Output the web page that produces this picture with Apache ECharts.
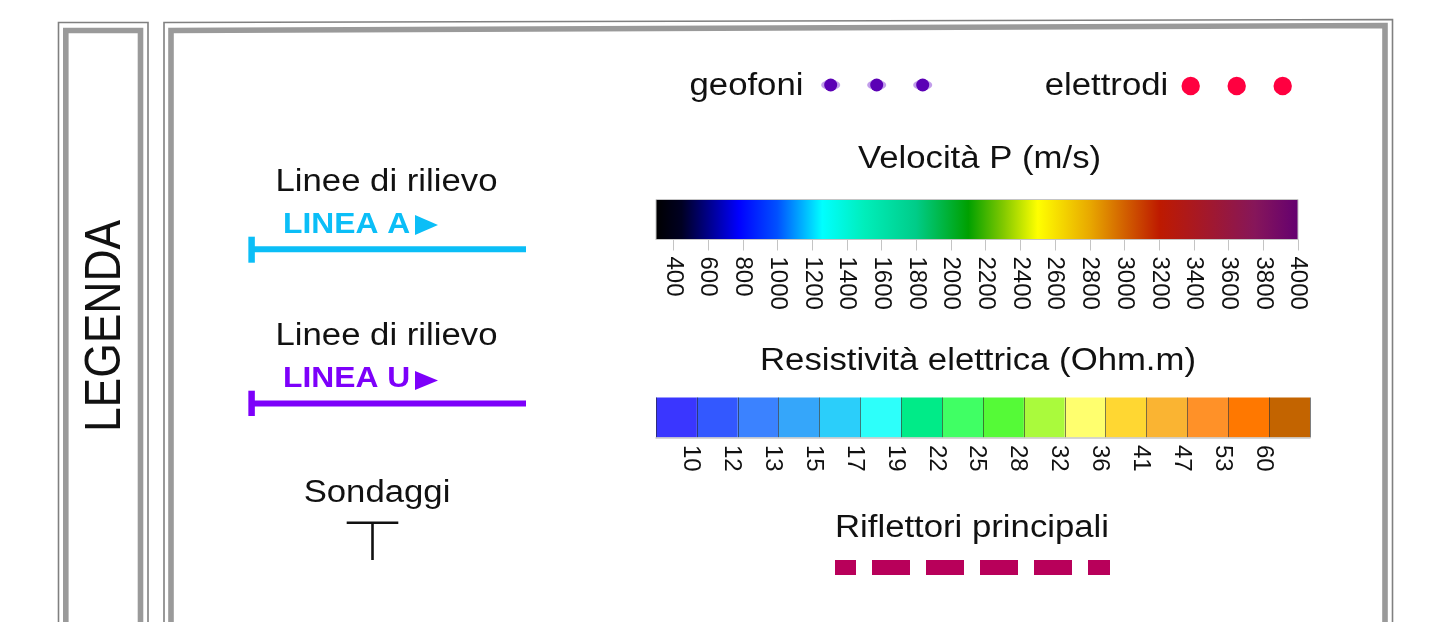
<!DOCTYPE html>
<html><head><meta charset="utf-8">
<script src="https://cdn.jsdelivr.net/npm/echarts@6/dist/echarts.min.js"></script>
<style>html,body{margin:0;padding:0;background:#fff}#c{width:1440px;height:622px}</style>
</head><body><div id="c"></div>
<script>
// ---- data ----
const velocityTitle = 'Velocità P (m/s)';
const velocityRange = [300, 4000];
const velocityTicks = [400,600,800,1000,1200,1400,1600,1800,2000,2200,2400,2600,2800,3000,3200,3400,3600,3800,4000];
const velocityStopValues = [300, 450, 780, 1000, 1150, 1260, 1500, 1800, 2100, 2300, 2500, 2800, 3000, 3200, 3500, 3750, 4000];
const velocityStopColors = ['#000000','#000022','#0000ff','#0050ff','#00b4ff','#00ffff','#00eebb','#00cc88','#00a000','#80c800','#ffff00','#e8a800','#d26000','#be1a00','#a01830','#86165a','#640070'];
const resistivityTitle = 'Resistività elettrica (Ohm.m)';
const resistivityLabels = ['10','12','13','15','17','19','22','25','28','32','36','41','47','53','60'];
const resistivityColors = ['#3a36ff','#3358ff','#3b82ff','#35a6fa','#2bcefa','#2dfffa','#00eb88','#40ff64','#55fa37','#aafa3c','#ffff6e','#ffd732','#fab432','#ff9128','#ff7800','#c36400'];
const legendTitle = 'LEGENDA';
const surveyTitle = 'Linee di rilievo';
const lineNames = ['LINEA A', 'LINEA U'];
const lineColors = ['#0bbef7', '#7d00fa'];
const pointNames = ['geofoni', 'elettrodi'];
const pointColors = ['#5b00b5', '#ff0040'];
const boreholeTitle = 'Sondaggi';
const reflectorTitle = 'Riflettori principali';
const reflectorColor = '#b8005a';

// ---- chart ----
const chart = echarts.init(document.getElementById('c'));
const FONT = '"Liberation Sans", Arial, sans-serif';
const NARROW = '"Liberation Sans Narrow", "Arial Narrow", "Liberation Sans", sans-serif';
const frameOuter = '#808080', frameBand = '#9a9a9a';

function txt(t, x, y, fs, sx, opts) {
  opts = opts || {};
  return {type:'text', x:x, y:y, scaleX:sx, scaleY:opts.sy||1, rotation:opts.rot||0, z:10,
    style:{text:t, fontSize:fs, fontFamily:FONT, fontWeight:opts.bold?'bold':'normal',
      fill:opts.color||'#111', align:opts.align||'center', verticalAlign:'middle'}};
}
function line(x1,y1,x2,y2,color,w,extra){
  return Object.assign({type:'line', shape:{x1:x1,y1:y1,x2:x2,y2:y2}, z:10,
    style:{stroke:color, lineWidth:w, lineCap:'butt'}}, extra||{});
}

const graphics = [
  // frames
  {type:'polyline', shape:{points:[[58.5,640],[58.5,22.5],[148,22.5],[148,640]]}, style:{stroke:frameOuter, lineWidth:1.6, fill:null}},
  {type:'polyline', shape:{points:[[65.8,640],[65.8,30.5],[140.5,30.5],[140.5,640]]}, style:{stroke:frameBand, lineWidth:5.6, fill:null}},
  {type:'polyline', shape:{points:[[164,640],[164,22.5],[1392.5,19.5],[1392.5,640]]}, style:{stroke:frameOuter, lineWidth:1.6, fill:null}},
  {type:'polyline', shape:{points:[[171,640],[171,30.5],[1385,25.5],[1385,640]]}, style:{stroke:frameBand, lineWidth:5.6, fill:null}},
  // LEGENDA
  txt(legendTitle, 106, 326, 44.4, 1, {rot:Math.PI/2, sy:1.13}),
  // survey lines
  txt(surveyTitle, 386.5, 182, 31, 1.12),
  txt(lineNames[0], 283, 225, 30, 1.06, {bold:true, color:lineColors[0], align:'left'}),
  {type:'polygon', shape:{points:[[415,215],[415,235],[438,225]]}, style:{fill:lineColors[0]}},
  line(253,249.3,526,249.3,lineColors[0],6),
  line(251.6,236.7,251.6,262.7,lineColors[0],6.5),
  txt(surveyTitle, 386.5, 336, 31, 1.12),
  txt(lineNames[1], 283, 379, 30, 1.06, {bold:true, color:lineColors[1], align:'left'}),
  {type:'polygon', shape:{points:[[415,371],[415,390],[438,380.5]]}, style:{fill:lineColors[1]}},
  line(253,403.6,526,403.6,lineColors[1],6),
  line(251.6,390.7,251.6,416,lineColors[1],6.5),
  // boreholes
  txt(boreholeTitle, 377, 493, 31, 1.12),
  line(346.7,522.8,398.3,522.8,'#111',2.4),
  line(372.5,522,372.5,560,'#111',2.6),
  // points
  txt(pointNames[0], 746.5, 86, 31, 1.12),
  txt(pointNames[1], 1106.5, 86, 31, 1.12),
  // titles
  txt(velocityTitle, 979.5, 159, 31, 1.12),
  txt(resistivityTitle, 978, 361, 31, 1.12),
  txt(reflectorTitle, 972, 528, 31, 1.12),
  // reflector dashed line
  line(835,567.5,1110,567.5,reflectorColor,15,{style:{stroke:reflectorColor,lineWidth:15,lineCap:'butt',lineDash:[38,16],lineDashOffset:17}})
];
[830.7, 876.7, 922.7].forEach(function(cx){
  graphics.push({type:'ellipse', shape:{cx:cx, cy:85, rx:9.5, ry:5}, z:9, style:{fill:'rgba(120,40,210,0.45)'}});
  graphics.push({type:'circle', shape:{cx:cx, cy:85, r:6.5}, z:10, style:{fill:pointColors[0]}});
});
[1190.7, 1236.7, 1282.7].forEach(function(cx){
  graphics.push({type:'circle', shape:{cx:cx, cy:86, r:9.2}, z:10, style:{fill:pointColors[1]}});
});

const span = velocityRange[1] - velocityRange[0];
const gradStops = velocityStopValues.map(function(v,i){ return {offset:(v-velocityRange[0])/span, color:velocityStopColors[i]}; });

chart.setOption({
  animation:false,
  backgroundColor:'#ffffff',
  grid:[
    {left:656, top:199.5, width:642, height:40, outerBoundsMode:'none', containLabel:false},
    {left:656, top:397.5, width:654, height:40, outerBoundsMode:'none', containLabel:false}
  ],
  xAxis:[
    {gridIndex:0, type:'value', min:velocityRange[0], max:velocityRange[1],
      axisLine:{show:true, lineStyle:{color:'#c4c4c4', width:1}},
      axisTick:{show:true, length:11, customValues:velocityTicks, lineStyle:{color:'#c4c4c4', width:1}},
      axisLabel:{show:true, customValues:velocityTicks, rotate:-90, margin:17, fontSize:24, fontFamily:NARROW, color:'#111',
        formatter:function(v){ return String(v); }},
      splitLine:{show:false}},
    {gridIndex:1, type:'value', min:0, max:resistivityColors.length, interval:1, z:5,
      axisLine:{show:true, lineStyle:{color:'#c8c8c8', width:1.5}},
      axisTick:{show:false},
      axisLabel:{show:true, rotate:-90, margin:7.5, fontSize:24, fontFamily:NARROW, color:'#111',
        verticalAlign:'top', lineHeight:12,
        formatter:function(v){ return resistivityLabels[v-1] || ''; }},
      splitLine:{show:true, lineStyle:{color:'rgba(40,40,40,0.6)', width:1}}}
  ],
  yAxis:[
    {gridIndex:0, type:'value', min:0, max:1, show:false},
    {gridIndex:1, type:'value', min:0, max:1, show:false}
  ],
  series:[
    {type:'custom', xAxisIndex:0, yAxisIndex:0, data:[[velocityRange[0], velocityRange[1]]],
      renderItem:function(params, api){
        const p0 = api.coord([api.value(0), 0]);
        const p1 = api.coord([api.value(1), 1]);
        return {type:'rect', shape:{x:p0[0], y:p1[1], width:p1[0]-p0[0], height:p0[1]-p1[1]},
          style:{fill:new echarts.graphic.LinearGradient(0,0,1,0,gradStops), stroke:'#c4c4c4', lineWidth:1}};
      }},
    {type:'custom', xAxisIndex:1, yAxisIndex:1,
      data:resistivityColors.map(function(c,i){ return [i, i+1, i]; }),
      renderItem:function(params, api){
        const p0 = api.coord([api.value(0), 0]);
        const p1 = api.coord([api.value(1), 1]);
        return {type:'rect', shape:{x:p0[0], y:p1[1], width:p1[0]-p0[0], height:p0[1]-p1[1]},
          style:{fill:resistivityColors[api.value(2)]}};
      }}
  ],
  graphic:graphics
});
</script></body></html>
